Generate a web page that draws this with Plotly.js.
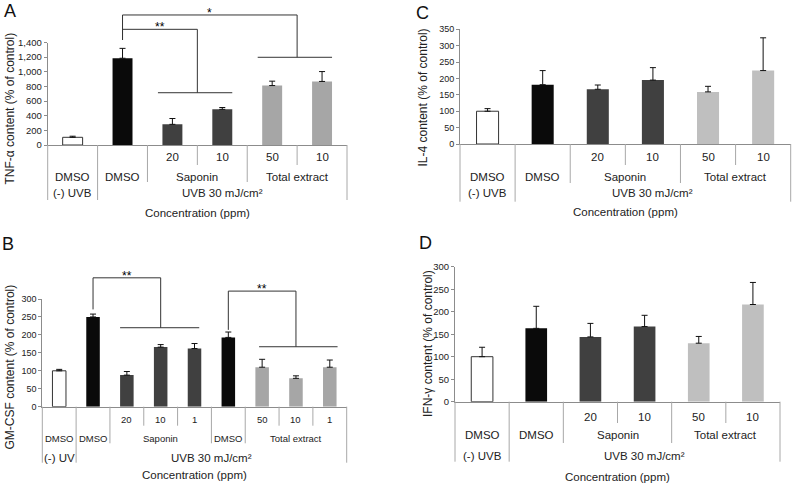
<!DOCTYPE html>
<html><head><meta charset="utf-8">
<script src="https://cdn.plot.ly/plotly-3.0.1.min.js"></script>
<style>html,body{margin:0;padding:0;background:#fff}</style>
</head><body><div id="chart" style="width:794px;height:485px"></div>
<script>
// ---------------- data ----------------
const UVB = "UVB 30 mJ/cm²";
// Panel A – TNF-α
const concA  = ["", "", "20", "10", "50", "10"];
const groupA = ["DMSO", "DMSO", "Saponin", "Saponin", "Total extract", "Total extract"];
const uvbA   = ["(-) UVB", UVB, UVB, UVB, UVB, UVB];
const tnfValues = [105, 1185, 282, 487, 812, 868];
const tnfErrors = [15, 135, 80, 25, 60, 135];
// Panel B – GM-CSF
const concB  = ["", "", "20", "10", "1", "", "50", "10", "1"];
const groupB = ["DMSO", "DMSO", "Saponin", "Saponin", "Saponin", "DMSO", "Total extract", "Total extract", "Total extract"];
const uvbB   = ["(-) UV", UVB, UVB, UVB, UVB, UVB, UVB, UVB, UVB];
const gmcsfValues = [100, 250, 88, 166, 162, 193, 110, 79, 110];
const gmcsfErrors = [4, 8, 10, 7, 14, 15, 22, 7, 20];
// Panels C and D share categories
const concCD  = ["", "", "20", "10", "50", "10"];
const groupCD = ["DMSO", "DMSO", "Saponin", "Saponin", "Total extract", "Total extract"];
const uvbCD   = ["(-) UVB", UVB, UVB, UVB, UVB, UVB];
const il4Values = [100, 181, 167, 195, 159, 224];
const il4Errors = [8, 43, 13, 38, 17, 100];
const ifnValues = [100, 163, 144, 167, 130, 216];
const ifnErrors = [21, 49, 30, 25, 15, 49];

// brackets: control category, compared categories
const bracketsA = [
  {from: 1, to: [4, 5], text: "*"},
  {from: 1, to: [2, 3], text: "**"}
];
const bracketsB = [
  {from: 1, to: [2, 3, 4], text: "**"},
  {from: 5, to: [6, 7, 8], text: "**"}
];

// ---------------- style / layout ----------------
const W = 794, H = 485;
const FONT = "Liberation Sans, Arial, Helvetica, sans-serif";
const TXT = "#222";
const AXC = "#8c8c8c";
const SEPC = "#a8a8a8";
const fx = px => px / W;
const fy = py => 1 - py / H;

const bracketGeom = {
  A: [ {fromY: 1434, topY: 1776, toY: 1198, span: [-0.29, 0.2]},
       {fromY: 1434, topY: 1580, toY: 714,  span: [-0.29, 0.2]} ],
  B: [ {fromY: 271, topY: 359, toY: 220, span: [-0.2, 0.14]},
       {fromY: 214, topY: 322, toY: 167, span: [-0.09, 0.23]} ]
};

const panels = [
  {key: "A", xa: "x", ya: "y", conc: concA, group: groupA, uvb: uvbA, values: tnfValues, errors: tnfErrors,
   left: 47.7, right: 347, y0: 145, ytop: 42.5, ymax: 1400, dtick: 200, tickformat: ",d", tickSize: 9.5,
   ytitle: "TNF-α content (% of control)", ytitlePos: [9.5, 109], letterPos: [10, 11],
   rows: [12, 32, 48, 68], lines: [20, 37, 55], s12: 11.5, s3: 11.5, light: "#a6a6a6", brackets: bracketsA},
  {key: "B", xa: "x2", ya: "y2", conc: concB, group: groupB, uvb: uvbB, values: gmcsfValues, errors: gmcsfErrors,
   left: 42.3, right: 346.7, y0: 406.7, ytop: 299, ymax: 300, dtick: 50, tickformat: "d", tickSize: 9,
   ytitle: "GM-CSF content (% of control)", ytitlePos: [9.5, 367], letterPos: [8, 244],
   rows: [12.3, 31.6, 51.6, 68.3], lines: [19, 36.6, 56], s12: 9.5, s3: 11.5, light: "#a6a6a6", brackets: bracketsB},
  {key: "C", xa: "x3", ya: "y3", conc: concCD, group: groupCD, uvb: uvbCD, values: il4Values, errors: il4Errors,
   left: 460, right: 790.7, y0: 144, ytop: 29.3, ymax: 350, dtick: 50, tickformat: "d", tickSize: 9,
   ytitle: "IL-4 content (% of control)", ytitlePos: [423, 97.5], letterPos: [422, 13],
   rows: [13, 33, 49, 68], lines: [21, 39, 57.7], s12: 11.5, s3: 11.5, light: "#bfbfbf", brackets: []},
  {key: "D", xa: "x4", ya: "y4", conc: concCD, group: groupCD, uvb: uvbCD, values: ifnValues, errors: ifnErrors,
   left: 455, right: 780, y0: 401.7, ytop: 266.7, ymax: 300, dtick: 50, tickformat: "d", tickSize: 9.5,
   ytitle: "IFN-γ content (% of control)", ytitlePos: [428, 344], letterPos: [425, 243],
   rows: [15, 33.3, 54.3, 75], lines: [21.3, 41.3, 60], s12: 11.5, s3: 11.5, light: "#bfbfbf", brackets: []}
];

function barColor(p, i) {
  if (p.uvb[i].indexOf("(-)") === 0) return "#ffffff";
  if (p.group[i] === "DMSO") return "#0a0a0a";
  if (p.group[i] === "Saponin") return "#404040";
  return p.light;
}
function pxX(p, idx) { const n = p.values.length; return p.left + (idx + 0.5) / n * (p.right - p.left); }
function pxY(p, v) { return p.y0 - v / p.ymax * (p.y0 - p.ytop); }

const traces = [], shapes = [], annotations = [];
const layout = {
  width: W, height: H, margin: {l: 0, r: 0, t: 0, b: 0},
  paper_bgcolor: "#fff", plot_bgcolor: "rgba(0,0,0,0)",
  showlegend: false, bargap: 0, font: {family: FONT, color: TXT}
};

panels.forEach(p => {
  const n = p.values.length;
  const idx = p.values.map((_, i) => i);
  traces.push({
    type: "bar", x: idx, y: p.values, xaxis: p.xa, yaxis: p.ya, width: 0.4,
    marker: {color: idx.map(i => barColor(p, i)),
             line: {color: idx.map(i => barColor(p, i) === "#ffffff" ? "#333" : barColor(p, i)),
                    width: idx.map(i => barColor(p, i) === "#ffffff" ? 1 : 0)}},
    error_y: {type: "data", symmetric: false, array: p.errors, arrayminus: p.errors.map(() => 0),
              color: "#111", thickness: 1, width: 3},
    hoverinfo: "skip"
  });
  const xn = "xaxis" + p.xa.slice(1), yn = "yaxis" + p.ya.slice(1);
  layout[xn] = {domain: [fx(p.left), fx(p.right)], range: [-0.5, n - 0.5], anchor: p.ya,
    showline: true, linecolor: AXC, linewidth: 1, ticks: "", showticklabels: false,
    showgrid: false, zeroline: false, fixedrange: true};
  layout[yn] = {domain: [fy(p.y0), fy(p.ytop)], range: [0, p.ymax], anchor: p.xa,
    tick0: 0, dtick: p.dtick, tickformat: p.tickformat, ticks: "outside", ticklen: 3, tickcolor: AXC,
    showline: true, linecolor: AXC, linewidth: 1, showgrid: false, zeroline: false,
    tickfont: {size: p.tickSize, color: TXT, family: FONT}, fixedrange: true};

  // category table: labels
  const r = p.rows.map(o => p.y0 + o);
  p.conc.forEach((c, i) => {
    if (c) annotations.push({xref: p.xa, yref: "paper", x: i, y: fy(r[0]), text: c, showarrow: false,
      xanchor: "center", yanchor: "middle", font: {size: p.s12, color: TXT}});
  });
  function spans(keyFn) {
    const out = []; let s = 0;
    for (let i = 1; i <= n; i++) {
      if (i === n || keyFn(i) !== keyFn(s)) { out.push([s, i - 1]); s = i; }
    }
    return out;
  }
  spans(i => p.group[i] + "|" + p.uvb[i]).forEach(([a, b]) => {
    annotations.push({xref: p.xa, yref: "paper", x: (a + b) / 2, y: fy(r[1]), text: p.group[a], showarrow: false,
      xanchor: "center", yanchor: "middle", font: {size: p.s12, color: TXT}});
  });
  spans(i => p.uvb[i]).forEach(([a, b]) => {
    annotations.push({xref: p.xa, yref: "paper", x: (a + b) / 2, y: fy(r[2]), text: p.uvb[a], showarrow: false,
      xanchor: "center", yanchor: "middle", font: {size: p.s3, color: TXT}});
  });
  annotations.push({xref: "paper", yref: "paper", x: fx((p.left + p.right) / 2), y: fy(r[3]),
    text: "Concentration (ppm)", showarrow: false, xanchor: "center", yanchor: "middle", font: {size: 11.5, color: TXT}});
  // separators
  for (let b = 0; b <= n; b++) {
    let lvl;
    if (b === 0 || b === n || p.uvb[b - 1] !== p.uvb[b]) lvl = 2;
    else if (p.group[b - 1] !== p.group[b]) lvl = 1;
    else lvl = 0;
    const x = fx(pxX(p, b - 0.5));
    shapes.push({type: "line", xref: "paper", yref: "paper", x0: x, x1: x, y0: fy(p.y0), y1: fy(p.y0 + p.lines[lvl]),
      line: {color: SEPC, width: 1}});
  }
  // y title & panel letter
  annotations.push({xref: "paper", yref: "paper", x: fx(p.ytitlePos[0]), y: fy(p.ytitlePos[1]), text: p.ytitle,
    textangle: -90, showarrow: false, xanchor: "center", yanchor: "middle", font: {size: 12, color: TXT}});
  annotations.push({xref: "paper", yref: "paper", x: fx(p.letterPos[0]), y: fy(p.letterPos[1]), text: p.key,
    showarrow: false, xanchor: "center", yanchor: "middle", font: {size: 18, color: "#111"}});

  // significance brackets
  p.brackets.forEach((br, k) => {
    const g = bracketGeom[p.key][k];
    const xf = pxX(p, br.from);
    const tmid = br.to.reduce((s, v) => s + v, 0) / br.to.length;
    const xt = pxX(p, tmid);
    const xl = pxX(p, br.to[0] + g.span[0]), xr = pxX(p, br.to[br.to.length - 1] + g.span[1]);
    const yF = pxY(p, g.fromY), yT = pxY(p, g.topY), yB = pxY(p, g.toY);
    const L = (x0, y0, x1, y1) => shapes.push({type: "line", xref: "paper", yref: "paper",
      x0: fx(x0), y0: fy(y0), x1: fx(x1), y1: fy(y1), line: {color: "#333", width: 1}});
    L(xf, yF, xf, yT); L(xf, yT, xt, yT); L(xt, yT, xt, yB); L(xl, yB, xr, yB);
    annotations.push({xref: "paper", yref: "paper", x: fx((xf + xt) / 2), y: fy(yT - 2), text: br.text,
      showarrow: false, xanchor: "center", yanchor: "middle", font: {size: 12, color: "#000"}});
  });
});

layout.shapes = shapes;
layout.annotations = annotations;
Plotly.newPlot("chart", traces, layout, {displayModeBar: false, staticPlot: true});
</script></body></html>
